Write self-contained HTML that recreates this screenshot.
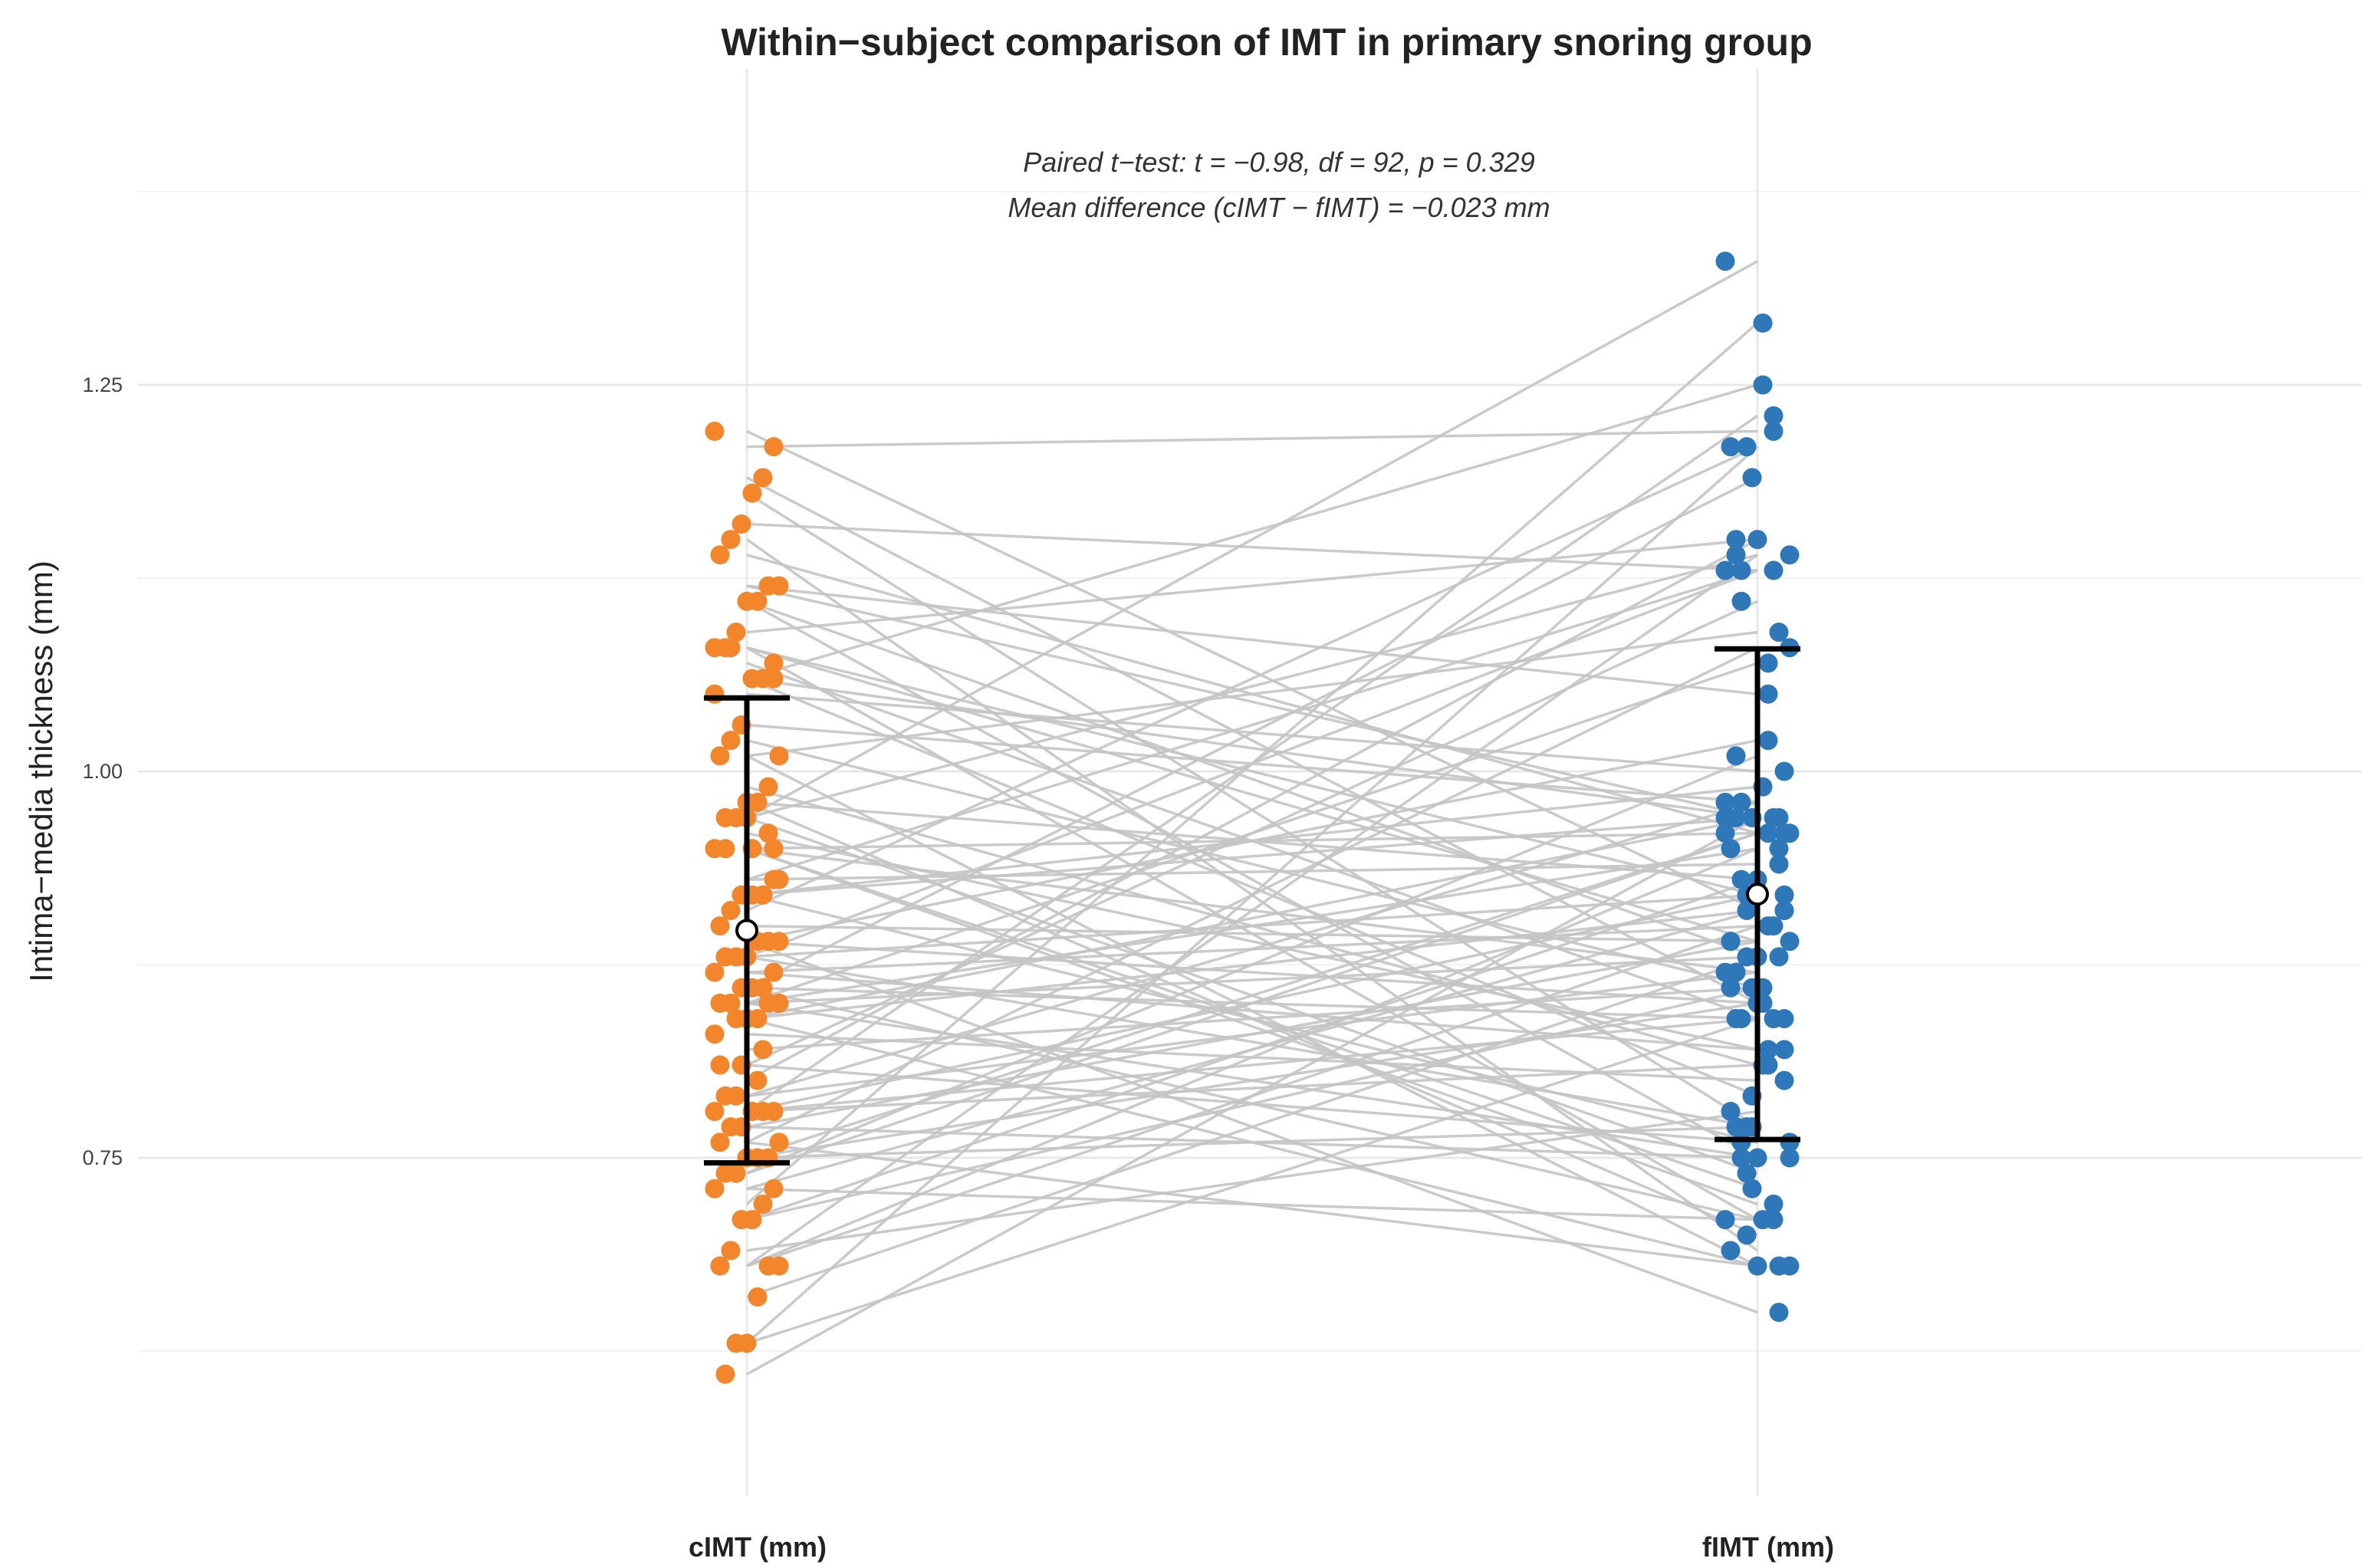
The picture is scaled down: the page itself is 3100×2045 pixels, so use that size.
<!DOCTYPE html>
<html><head><meta charset="utf-8"><style>
html,body{margin:0;padding:0;background:#fff;}
svg{display:block;font-family:"Liberation Sans",sans-serif;}
</style></head><body>
<svg id="chart" width="3100" height="2045" viewBox="0 0 3100 2045">
<text x="1652" y="72" text-anchor="middle" font-size="50" font-weight="bold" fill="#222">Within−subject comparison of IMT in primary snoring group</text>
<text x="1668" y="224" text-anchor="middle" font-size="36" font-style="italic" fill="#333">Paired t−test: t = −0.98, df = 92, p = 0.329</text>
<text x="1668" y="283" text-anchor="middle" font-size="36" font-style="italic" fill="#333">Mean difference (cIMT − fIMT) = −0.023 mm</text>
<text transform="translate(68,1006) rotate(-90)" text-anchor="middle" font-size="42" fill="#222">Intima−media thickness (mm)</text>
<g id="grid"></g><g id="lines"></g><g id="dots"></g><g id="bars"></g><g id="labels"></g>
</svg>
<script>
const categories = ["cIMT (mm)", "fIMT (mm)"];
const yTicks = [0.75, 1.00, 1.25];
const yTickLabels = ["0.75", "1.00", "1.25"];
const yMinor = [0.625, 0.875, 1.125, 1.375];
const cimt = [1.22,1.21,1.19,1.18,1.16,1.15,1.14,1.12,1.12,1.11,
1.11,1.09,1.08,1.08,1.07,1.06,1.06,1.03,1.02,1.01,
1.01,0.99,0.98,0.97,0.97,0.95,0.95,0.95,0.92,0.92,
0.92,0.91,0.90,0.89,0.89,0.89,0.88,0.88,0.88,0.87,
0.87,0.86,0.86,0.86,0.85,0.85,0.85,0.85,0.84,0.84,
0.84,0.97,0.83,1.06,0.82,0.95,0.81,1.08,0.81,0.93,
0.96,0.80,0.98,0.79,0.79,0.78,0.78,0.78,0.78,0.77,
0.77,0.76,0.76,0.75,0.75,0.75,0.74,0.74,0.73,0.73,
0.72,0.71,0.71,0.69,0.68,0.68,0.68,0.66,0.63,0.63,
0.61,1.05,0.93];
const fimt = [0.91,1.22,0.85,0.77,1.13,0.69,0.96,0.97,1.05,0.75,
0.88,1.15,0.71,0.92,0.84,1.25,0.79,0.98,0.86,0.68,
1.09,0.81,0.93,0.74,1.14,0.87,0.96,0.72,0.99,0.97,
0.76,1.21,0.89,0.65,1.02,0.85,0.92,0.77,1.13,0.82,
0.90,0.71,1.19,0.84,0.95,0.75,0.88,1.07,0.68,0.91,
0.97,1.33,0.80,0.97,0.86,0.73,1.11,0.89,0.76,0.94,
0.82,1.15,0.70,0.87,0.98,0.84,1.23,0.81,0.92,0.75,
0.89,1.08,0.68,0.96,0.85,0.77,1.01,0.96,0.91,0.71,
1.29,0.86,0.93,0.78,1.14,0.95,0.90,0.88,1.21,0.84,
0.97,1.00,1.13];

const NS="http://www.w3.org/2000/svg";
function yScale(v){return 1006-(v-1)*2016;}
function xScale(i){return 974+i*1318;}
function mk(tag,attrs,parent){const e=document.createElementNS(NS,tag);for(const k in attrs)e.setAttribute(k,attrs[k]);parent.appendChild(e);return e;}
const G=id=>document.getElementById(id);

yMinor.forEach(v=>{const l=mk("line",{x1:180,x2:3080,y1:yScale(v),y2:yScale(v),stroke:"#f3f3f3","stroke-width":2},G("grid"));

});
yTicks.forEach((v,i)=>{const l=mk("line",{x1:180,x2:3080,y1:yScale(v),y2:yScale(v),stroke:"#e8e8e8","stroke-width":3},G("grid"));


const t=mk("text",{x:160,y:yScale(v)+9,"text-anchor":"end","font-size":27,fill:"#444"},G("labels"));t.textContent=yTickLabels[i];

});
categories.forEach((c,i)=>{const l=mk("line",{x1:xScale(i),x2:xScale(i),y1:90,y2:1950,stroke:"#e8e8e8","stroke-width":3},G("grid"));


const t=mk("text",{x:xScale(i)+14,y:2030,"text-anchor":"middle","font-size":36,"font-weight":"bold",fill:"#222"},G("labels"));t.textContent=c;

});

cimt.forEach((v,i)=>{const l=mk("line",{x1:xScale(0),y1:yScale(v),x2:xScale(1),y2:yScale(fimt[i]),stroke:"#c4c4c4","stroke-width":3.5,"stroke-opacity":0.9},G("lines"));

});
const series=[cimt,fimt], colors=["#F3852A","#2E78BA"];
series.forEach((arr,s)=>{arr.forEach((v,i)=>{const jit=(((i*37+s*11)%13)-6)*7;
const c=mk("circle",{cx:xScale(s)+jit,cy:yScale(v),r:12.5,fill:colors[s]},G("dots"));

});});
series.forEach((arr,s)=>{const m=arr.reduce((a,b)=>a+b,0)/arr.length;
const sd=Math.sqrt(arr.reduce((a,b)=>a+(b-m)*(b-m),0)/(arr.length-1));
const x=xScale(s);
const g=mk("g",{},G("bars"));


mk("line",{x1:x,x2:x,y1:yScale(m+sd),y2:yScale(m-sd),stroke:"#000","stroke-width":7},g);
mk("line",{x1:x-56,x2:x+56,y1:yScale(m+sd),y2:yScale(m+sd),stroke:"#000","stroke-width":7},g);
mk("line",{x1:x-56,x2:x+56,y1:yScale(m-sd),y2:yScale(m-sd),stroke:"#000","stroke-width":7},g);
const c=mk("circle",{cx:x,cy:yScale(m),r:13,fill:"#fff",stroke:"#000","stroke-width":4},G("bars"));

});
</script>
</body></html>
